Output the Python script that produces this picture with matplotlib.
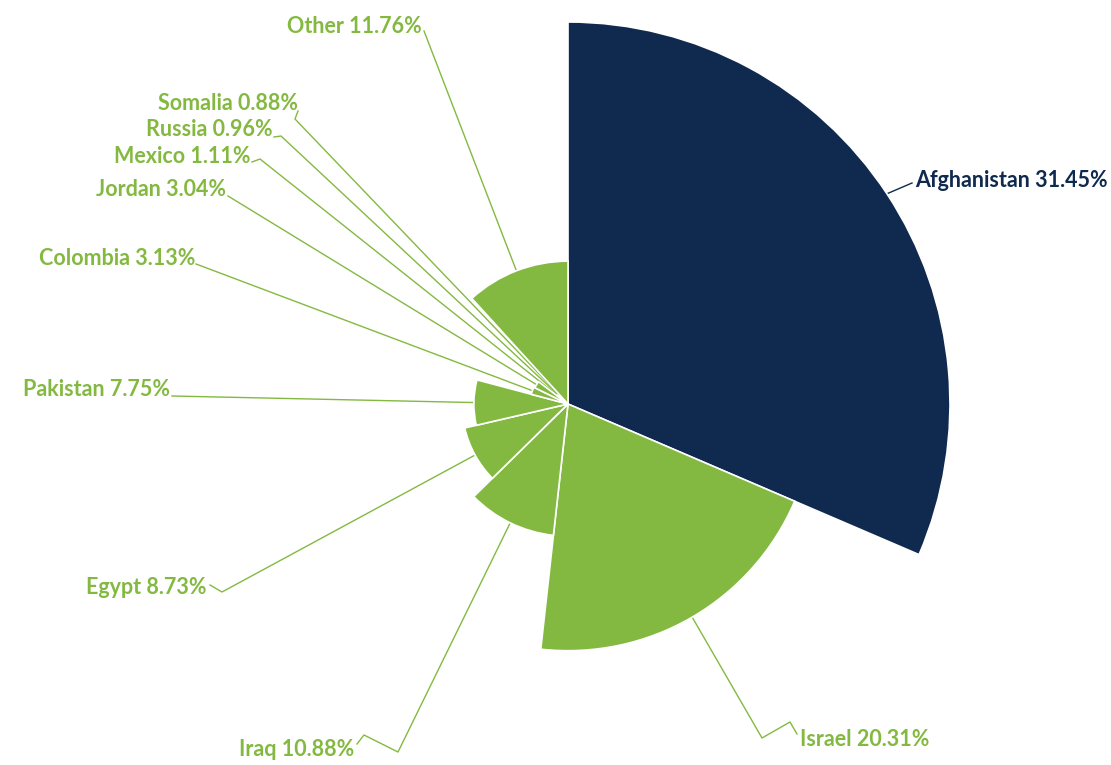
import numpy as np
import matplotlib.pyplot as plt
from matplotlib.patches import Wedge

# data
countries = ['Afghanistan', 'Israel', 'Iraq', 'Egypt', 'Pakistan', 'Colombia',
             'Jordan', 'Mexico', 'Russia', 'Somalia', 'Other']
shares = [31.45, 20.31, 10.88, 8.73, 7.75, 3.13, 3.04, 1.11, 0.96, 0.88, 11.76]

green = '#84b941'
navy = '#0f2a4e'
colors = [navy] + [green] * (len(countries) - 1)

# layout (pixel coords, y down)
cx, cy = 568, 404
rmax = 382
label_xy = [(915, 180), (800, 740), (354, 750), (207, 587), (170, 389),
            (195, 258), (226, 189), (250, 156), (273, 129), (298, 103), (422, 26)]
label_ha = ['left', 'left'] + ['right'] * 9
elbows = [
    [(912, 183)],
    [(797, 734), (790, 722), (762, 738)],
    [(357, 744), (364, 735), (398, 752)],
    [(210, 585), (222, 592)],
    [(172, 396)],
    [(196, 264)],
    [(228, 196)],
    [(252, 162), (260, 159)],
    [(274, 137), (281, 136)],
    [(298, 111), (295, 119)],
    [(424, 31)],
]

fig = plt.figure(figsize=(11.11, 7.65), dpi=100)
ax = fig.add_axes([0, 0, 1, 1])
ax.set_xlim(0, 1111)
ax.set_ylim(765, 0)
ax.set_aspect('equal')
ax.axis('off')

scale = rmax / max(shares)
start = -90.0
for i, (name, s) in enumerate(zip(countries, shares)):
    span = s / 100 * 360
    r = s * scale
    ax.add_patch(Wedge((cx, cy), r, start, start + span, facecolor=colors[i],
                       edgecolor='white', linewidth=1.2, zorder=2))
    mid = np.deg2rad(start + span / 2)
    px, py = cx + r * np.cos(mid), cy + r * np.sin(mid)
    pts = elbows[i] + [(px, py)]
    xs = [p[0] for p in pts]
    ys = [p[1] for p in pts]
    ax.plot(xs, ys, color=colors[i], linewidth=1.0, zorder=1)
    ax.text(label_xy[i][0], label_xy[i][1], f'{name} {s:.2f}%', ha=label_ha[i],
            va='center', color=colors[i], fontsize=15.5, fontweight='bold',
            family='Lato')
    start += span

plt.savefig('out.png', dpi=100)
